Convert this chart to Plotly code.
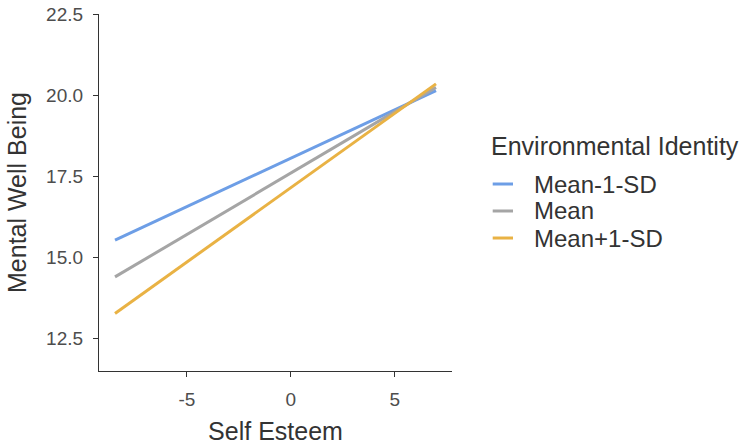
import plotly.graph_objects as go

x_vals = [-8.46, 6.98]
series_names = ["Mean-1-SD", "Mean", "Mean+1-SD"]
series_values = [
    [15.53, 20.15],
    [14.39, 20.25],
    [13.26, 20.36],
]
colors = ["#6D9EE6", "#A5A5A5", "#E9B244"]
legend_title = "Environmental Identity"

fig = go.Figure()
for name, ys, c in zip(series_names, series_values, colors):
    fig.add_trace(go.Scatter(x=x_vals, y=ys, mode="lines", name=name,
                             line=dict(color=c, width=3), showlegend=False))

axis_common = dict(showgrid=False, zeroline=False, showline=True, linecolor="#333333",
                   linewidth=1.3, ticks="outside", ticklen=5, tickcolor="#333333",
                   tickwidth=1.3, automargin=False, ticklabelstandoff=6,
                   tickfont=dict(size=19, color="#4D4D4D"))
fig.update_xaxes(range=[-9.23, 7.75], tickvals=[-5, 0, 5], ticktext=["-5", "0", "5"],
                 title=dict(text="Self Esteem", font=dict(size=25, color="#333333"), standoff=13),
                 **axis_common)
fig.update_yaxes(range=[11.48, 22.52], tickvals=[12.5, 15, 17.5, 20, 22.5],
                 ticktext=["12.5", "15.0", "17.5", "20.0", "22.5"],
                 title=dict(text="Mental Well Being", font=dict(size=25, color="#333333"), standoff=12),
                 **axis_common)

# manual legend (ggplot-style compact spacing)
annotations = [dict(text=legend_title, x=1.105, y=0.63, xref="paper", yref="paper",
                    xanchor="left", yanchor="middle", showarrow=False,
                    font=dict(size=25, color="#333333"))]
shapes = []
item_y = [0.5238, 0.4482, 0.3725]
for name, c, yy in zip(series_names, colors, item_y):
    shapes.append(dict(type="line", xref="paper", yref="paper", x0=1.1153, x1=1.1728,
                       y0=yy, y1=yy, line=dict(color=c, width=3)))
    annotations.append(dict(text=name, x=1.228, y=yy, xref="paper", yref="paper",
                            xanchor="left", yanchor="middle", showarrow=False,
                            font=dict(size=24, color="#333333")))

fig.update_layout(
    width=746, height=446,
    margin=dict(l=99, r=294, t=14, b=75),
    plot_bgcolor="white", paper_bgcolor="white",
    font=dict(family="Liberation Sans, Arial, sans-serif", color="#333333"),
    annotations=annotations, shapes=shapes, showlegend=False,
)
fig.write_html("out.html", config={"displayModeBar": False},
               post_script="document.body.style.margin='0';")
